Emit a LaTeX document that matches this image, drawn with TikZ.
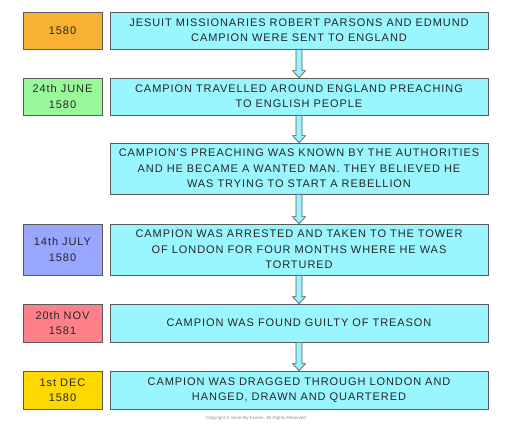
\documentclass[tikz,border=0pt]{standalone}
\usepackage{fontspec}
\usepackage{tikz}
\usetikzlibrary{calc}
\newfontfamily\boxfont[LetterSpace=8.5]{Liberation Sans}
\definecolor{eventcyan}{HTML}{99F6FF}
\definecolor{dateorange}{HTML}{F8B133}
\definecolor{dategreen}{HTML}{99F899}
\definecolor{dateblue}{HTML}{99A6FF}
\definecolor{datered}{HTML}{FF8088}
\definecolor{dateyellow}{HTML}{FFD800}
\definecolor{edgegrey}{HTML}{5A5A5A}
\tikzset{
  flowarrow/.style={draw=edgegrey, fill=eventcyan, line width=0.7pt, line join=miter}
}
% block arrow from the bottom of one box to the top of the next
\newcommand{\flowto}[2]{%
  \draw[flowarrow] ($(#1.south)+(-3,0)$) -- ($(#2.north)+(-3,-7)$) -- ($(#2.north)+(-6.5,-7)$)
    -- (#2.north) -- ($(#2.north)+(6.5,-7)$) -- ($(#2.north)+(3,-7)$) -- ($(#1.south)+(3,0)$) -- cycle;}

\begin{document}
\begin{tikzpicture}[x=1pt,y=-1pt]
\useasboundingbox (0,0) rectangle (512,425);
\begin{scope}[every node/.style={draw=edgegrey, line width=0.7pt, rectangle, inner sep=0pt,
    align=center, text=black!85, font=\boxfont\fontsize{11}{15.3}\selectfont}]
    % dates
    \node[fill=dateorange, minimum width=79, minimum height=37] (d1) at (62.5,30.5) {1580};
    \node[fill=dategreen, minimum width=79, minimum height=37] (d2) at (62.5,96.5) {24th JUNE\\1580};
    \node[fill=dateblue, minimum width=79, minimum height=51] (d4) at (62.5,249.5) {14th JULY\\1580};
    \node[fill=datered, minimum width=79, minimum height=38] (d5) at (62.5,323) {20th NOV\\1581};
    \node[fill=dateyellow, minimum width=79, minimum height=38] (d6) at (62.5,390) {1st DEC\\1580};

    % events
    \node[fill=eventcyan, minimum width=378, minimum height=37] (e1) at (299,30.5)
        {JESUIT MISSIONARIES ROBERT PARSONS AND EDMUND\\CAMPION WERE SENT TO ENGLAND};
    \node[fill=eventcyan, minimum width=378, minimum height=37] (e2) at (299,96.5)
        {CAMPION TRAVELLED AROUND ENGLAND PREACHING\\TO ENGLISH PEOPLE};
    \node[fill=eventcyan, minimum width=378, minimum height=51] (e3) at (299,168.5)
        {CAMPION'S PREACHING WAS KNOWN BY THE AUTHORITIES\\AND HE BECAME A WANTED MAN. THEY BELIEVED HE\\WAS TRYING TO START A REBELLION};
    \node[fill=eventcyan, minimum width=378, minimum height=51] (e4) at (299,249.5)
        {CAMPION WAS ARRESTED AND TAKEN TO THE TOWER\\OF LONDON FOR FOUR MONTHS WHERE HE WAS\\TORTURED};
    \node[fill=eventcyan, minimum width=378, minimum height=38] (e5) at (299,323)
        {CAMPION WAS FOUND GUILTY OF TREASON};
    \node[fill=eventcyan, minimum width=378, minimum height=38] (e6) at (299,390)
        {CAMPION WAS DRAGGED THROUGH LONDON AND\\HANGED, DRAWN AND QUARTERED};
\end{scope}

\flowto{e1}{e2}
\flowto{e2}{e3}
\flowto{e3}{e4}
\flowto{e4}{e5}
\flowto{e5}{e6}

\node[text=black!45, font=\fontspec{Liberation Sans}\fontsize{4.5}{5}\selectfont] (copy) at (256,418)
    {Copyright \textcopyright{} Save My Exams. All Rights Reserved};
\end{tikzpicture}
\end{document}
